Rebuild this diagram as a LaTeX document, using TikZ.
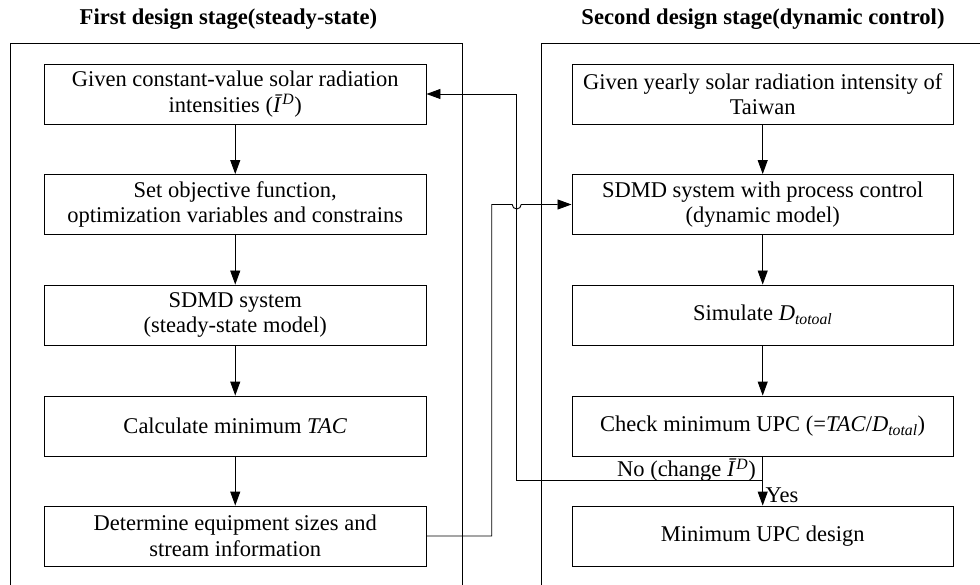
\documentclass[tikz,border=0pt]{standalone}
\usepackage{fontspec}
\setmainfont{Liberation Serif}
\usetikzlibrary{arrows.meta}
\tikzset{
  box/.style={draw, line width=0.9pt, minimum width=381.5pt, minimum height=60pt, align=center, inner sep=2pt, font=\fontsize{22.5}{25.5}\selectfont},
  ttl/.style={font=\fontsize{22.6}{26}\selectfont\bfseries},
  lbl/.style={font=\fontsize{22.5}{26}\selectfont, inner sep=1pt},
  ln/.style={line width=0.9pt},
  arr/.style={ln, -{Triangle[length=14pt,width=10pt]}}
}
\begin{document}
\begin{tikzpicture}[x=1pt,y=-1pt]
\useasboundingbox (0,0) rectangle (980,585);
% frames
\draw[ln] (10,586) |- (462,43) -- (462,586);
\draw[ln] (541.7,586) |- (981,43);
\node[ttl] (t1) at (228.5,19) {First design stage(steady-state)};
\node[ttl] (t2) at (763,19) {Second design stage(dynamic control)};
% left column
\node[box] (b1) at (235.25,94) {Given constant-value solar radiation\\intensities (\textit{Ī}\textsuperscript{\textit{D}})};
\node[box] (b2) at (235.25,204.5) {Set objective function,\\optimization variables and constrains};
\node[box] (b3) at (235.25,315) {SDMD system\\(steady-state model)};
\node[box] (b4) at (235.25,426) {Calculate minimum \textit{TAC}};
\node[box] (b5) at (235.25,536) {Determine equipment sizes and\\stream information};
% right column
\node[box] (c1) at (762.7,94) {Given yearly solar radiation intensity of\\Taiwan};
\node[box] (c2) at (762.7,204.5) {SDMD system with process control\\(dynamic model)};
\node[box] (c3) at (762.7,315) {Simulate \textit{D}\textsubscript{\textit{totoal}}};
\node[box] (c4) at (762.7,426) {Check minimum UPC (=\textit{TAC}/\textit{D}\textsubscript{\textit{total}})};
\node[box] (c5) at (762.7,536) {Minimum UPC design};
% vertical arrows
\draw[arr] (b1) -- (b2);
\draw[arr] (b2) -- (b3);
\draw[arr] (b3) -- (b4);
\draw[arr] (b4) -- (b5);
\draw[arr] (c1) -- (c2);
\draw[arr] (c2) -- (c3);
\draw[arr] (c3) -- (c4);
\draw[arr] (c4) -- (c5);
% feedback
\coordinate (fb1) at (762.7,480.3);
\coordinate (fb2) at (516.7,480.3);
\coordinate (fb3) at (516.7,94);
\draw[arr] (c4.south) -- (fb1) -- (fb2) -- (fb3) -- (b1.east);
% forward with hop
\coordinate (fw1) at (491.7,536);
\coordinate (fw2) at (491.7,204.5);
\coordinate (hop) at (512.2,204.5);
\draw[arr] (b5.east) -- (fw1) -- (fw2) -- (hop) arc[start angle=180, end angle=0, radius=4.5] -- (c2.west);
% labels
\node[lbl, anchor=east] (no) at (757,470.5) {No (change \textit{Ī}\textsuperscript{\textit{D}})};
\node[lbl, anchor=west] (yes) at (764.5,495.5) {Yes};
\end{tikzpicture}
\end{document}
